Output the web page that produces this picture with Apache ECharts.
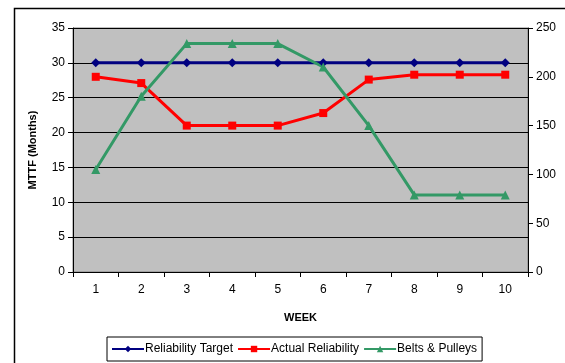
<!DOCTYPE html>
<html>
<head>
<meta charset="utf-8">
<script src="https://cdn.jsdelivr.net/npm/echarts@6/dist/echarts.min.js"></script>
<style>
  html, body { margin: 0; padding: 0; background: #fff; }
  #chart { width: 565px; height: 363px; }
</style>
</head>
<body>
<div id="chart"></div>
<script>
const weeks = ['1', '2', '3', '4', '5', '6', '7', '8', '9', '10']
const reliabilityTarget = [30, 30, 30, 30, 30, 30, 30, 30, 30, 30]
const actualReliability = [28, 27.1, 21, 21, 21, 22.8, 27.6, 28.3, 28.3, 28.3]
const beltsPulleys = [105, 180, 234, 234, 234, 210, 150, 79, 79, 79]

const chart = echarts.init(document.getElementById('chart'))
const font = 'Liberation Sans, Arial, sans-serif'

const option = {
  animation: false,
  textStyle: { fontFamily: font },
  graphic: [
    {
      type: 'rect',
      left: 12,
      top: 6,
      shape: { width: 600, height: 400 },
      style: { fill: 'none', stroke: '#000', lineWidth: 1.5 },
      silent: true
    }
  ],
  grid: {
    left: 73,
    right: 37,
    top: 28,
    bottom: 91,
    show: true,
    backgroundColor: '#c0c0c0',
    borderColor: '#808080',
    borderWidth: 1
  },
  legend: {
    left: 107,
    top: 337,
    itemWidth: 32,
    itemHeight: 8,
    itemGap: 4,
    padding: [6, 5, 6, 4],
    borderColor: '#000',
    borderWidth: 1,
    textStyle: { fontSize: 12, color: '#000', fontFamily: font, padding: [0, 0, 0, -4] },
    data: ['Reliability Target', 'Actual Reliability', 'Belts & Pulleys']
  },
  xAxis: {
    type: 'category',
    data: weeks,
    boundaryGap: true,
    name: 'WEEK',
    nameLocation: 'middle',
    nameGap: 40,
    nameTextStyle: { fontWeight: 'bold', fontSize: 11, color: '#000' },
    axisLine: { lineStyle: { color: '#000' } },
    axisTick: { show: true, length: 5, lineStyle: { color: '#000' } },
    axisLabel: { color: '#000', fontSize: 12, margin: 12 },
    splitLine: { show: false }
  },
  yAxis: [
    {
      type: 'value',
      min: 0,
      max: 35,
      interval: 5,
      name: 'MTTF (Months)',
      nameLocation: 'middle',
      nameRotate: 90,
      nameGap: 35,
      nameTextStyle: { fontWeight: 'bold', fontSize: 11, color: '#000' },
      axisLine: { show: true, lineStyle: { color: '#000' } },
      axisTick: { show: true, length: 5, lineStyle: { color: '#000' } },
      axisLabel: { color: '#000', fontSize: 12, margin: 8 },
      splitLine: { show: true, lineStyle: { color: '#000', width: 1 } }
    },
    {
      type: 'value',
      min: 0,
      max: 250,
      interval: 50,
      position: 'right',
      axisLine: { show: true, lineStyle: { color: '#000' } },
      axisTick: { show: true, length: 5, lineStyle: { color: '#000' } },
      axisLabel: { color: '#000', fontSize: 12, margin: 8 },
      splitLine: { show: false }
    }
  ],
  series: [
    {
      name: 'Reliability Target',
      type: 'line',
      data: reliabilityTarget,
      yAxisIndex: 0,
      symbol: 'diamond',
      symbolSize: 9,
      color: '#000080',
      lineStyle: { width: 3, color: '#000080' },
      itemStyle: { color: '#000080' }
    },
    {
      name: 'Actual Reliability',
      type: 'line',
      data: actualReliability,
      yAxisIndex: 0,
      symbol: 'rect',
      symbolSize: 8,
      color: '#ff0000',
      lineStyle: { width: 3, color: '#ff0000' },
      itemStyle: { color: '#ff0000' }
    },
    {
      name: 'Belts & Pulleys',
      type: 'line',
      data: beltsPulleys,
      yAxisIndex: 1,
      symbol: 'triangle',
      symbolSize: 9,
      color: '#339966',
      lineStyle: { width: 3, color: '#339966' },
      itemStyle: { color: '#339966' }
    }
  ]
}

chart.setOption(option)
</script>
</body>
</html>
